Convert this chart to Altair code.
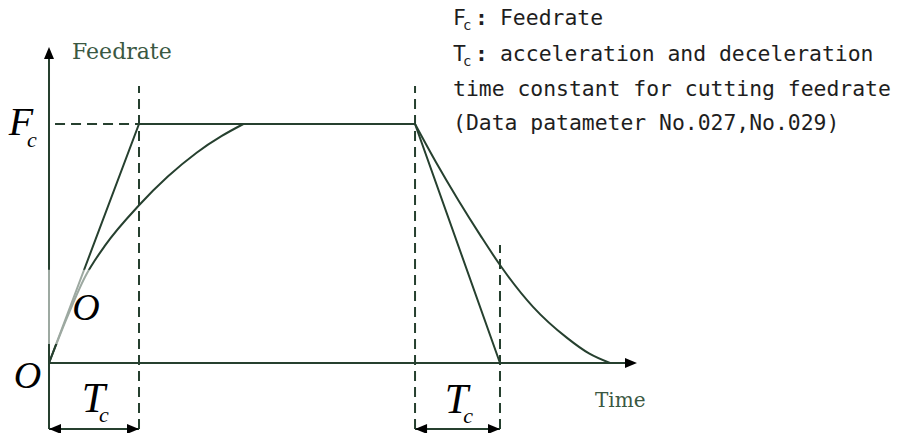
import altair as alt
import pandas as pd

# ---------------- data (time in Tc units, feedrate in Fc units) ----------------
lin_t = [0.0, 1.0, 4.067, 5.011]
lin_f = [0.0, 1.0, 1.0, 0.0]

acc_t = [0.0, 0.2, 0.4, 0.62, 1.0, 1.32, 1.64, 1.92, 2.16]
acc_f = [0.0, 0.19, 0.36, 0.49, 0.66, 0.78, 0.88, 0.95, 1.0]

dec_t = [4.067, 4.3, 4.55, 4.8, 5.011, 5.378, 5.756, 6.0, 6.233]
dec_f = [1.0, 0.84, 0.68, 0.53, 0.41, 0.235, 0.105, 0.04, 0.0]

t_acc_end = 1.0
t_dec_start = 4.067
t_dec_end = 5.011
f_dim = -0.276      # level of the Tc dimension arrows
t_axis_end = 6.533
f_axis_top = 1.322

LINE = "#26402f"
LABEL_GREEN = "#3a5842"

XS = alt.Scale(domain=[-0.4556, 9.4222], nice=False, zero=False)
YS = alt.Scale(domain=[-0.2929, 1.4854], nice=False, zero=False)
X = alt.X("t:Q", scale=XS, axis=None)
Y = alt.Y("f:Q", scale=YS, axis=None)


def segs(d):
    rows = []
    for name, pts in d.items():
        for i, (t, f) in enumerate(pts):
            rows.append({"seg": name, "o": i, "t": t, "f": f})
    return pd.DataFrame(rows)


solid = segs({
    "yaxis": [(0, f_dim), (0, f_axis_top - 0.03)],
    "xaxis": [(0, 0), (t_axis_end - 0.08, 0)],
    "tc1": [(0, f_dim), (t_acc_end, f_dim)],
    "tc2": [(t_dec_start, f_dim), (t_dec_end, f_dim)],
    "linear": list(zip(lin_t, lin_f)),
})
curves = segs({"acc": list(zip(acc_t, acc_f)), "dec": list(zip(dec_t, dec_f))})
dashed = segs({
    "fc": [(0.067, 1.0), (t_acc_end, 1.0)],
    "v1": [(t_acc_end, f_dim), (t_acc_end, 1.159)],
    "v2": [(t_dec_start, f_dim), (t_dec_start, 1.159)],
    "v3": [(t_dec_end, f_dim), (t_dec_end, 0.494)],
})

solid_layer = alt.Chart(solid).mark_line(color=LINE, strokeWidth=2).encode(
    x=X, y=Y, detail="seg:N", order="o:Q")
curve_layer = alt.Chart(curves).mark_line(color=LINE, strokeWidth=2, interpolate="monotone").encode(
    x=X, y=Y, detail="seg:N", order="o:Q")
dash_layer = alt.Chart(dashed).mark_line(color=LINE, strokeWidth=2, strokeDash=[10, 6]).encode(
    x=X, y=Y, detail="seg:N", order="o:Q")

# faded patch around the inner "O" label
fade = pd.DataFrame({"t": [-0.044], "t2": [0.57], "f": [0.08], "f2": [0.39]})
fade_layer = alt.Chart(fade).mark_rect(color="white", opacity=0.55).encode(
    x=X, x2="t2:Q", y=Y, y2="f2:Q")

# arrow heads
up = pd.DataFrame({"t": [0.0], "f": [f_axis_top]})
right = pd.DataFrame({"t": [t_axis_end, t_acc_end, t_dec_end], "f": [0.0, f_dim, f_dim]})
left = pd.DataFrame({"t": [0.0, t_dec_start], "f": [f_dim, f_dim]})
up_layer = alt.Chart(up).mark_point(shape="M0,0L-0.5,1.2L0.5,1.2Z", filled=True, size=400,
                                    color="black", opacity=1, strokeWidth=0).encode(x=X, y=Y)
right_layer = alt.Chart(right).mark_point(shape="M0,0L-1.2,-0.5L-1.2,0.5Z", filled=True, size=400,
                                          color="black", opacity=1, strokeWidth=0).encode(x=X, y=Y)
left_layer = alt.Chart(left).mark_point(shape="M0,0L1.2,-0.5L1.2,0.5Z", filled=True, size=400,
                                        color="black", opacity=1, strokeWidth=0).encode(x=X, y=Y)

# italic math labels
big_lab = pd.DataFrame({
    "t": [-0.311, -0.239, 0.411, 0.494, 4.528],
    "f": [0.954, -0.105, 0.18, -0.205, -0.209],
    "s": [40, 38, 38, 42, 42],
    "txt": ["F", "O", "O", "T", "T"],
})
sub_lab = pd.DataFrame({
    "t": [-0.189, 0.611, 4.656],
    "f": [0.904, -0.247, -0.251],
    "txt": ["c", "c", "c"],
})
big_layer = alt.Chart(big_lab).mark_text(font="Liberation Serif", fontStyle="italic", align="center",
                                         baseline="alphabetic", color="black").encode(
    x=X, y=Y, text="txt:N", size=alt.Size("s:Q", scale=None, legend=None))
sub_layer = alt.Chart(sub_lab).mark_text(font="Liberation Serif", fontStyle="italic", fontSize=22,
                                         align="center", baseline="alphabetic", color="black").encode(
    x=X, y=Y, text="txt:N")

# axis names
ax_names = pd.DataFrame({"t": [0.256, 6.067], "f": [1.272, -0.184], "txt": ["Feedrate", "Time"],
                         "s": [22, 20]})
ax_layer = alt.Chart(ax_names).mark_text(font="DejaVu Serif", align="left", baseline="alphabetic",
                                         color=LABEL_GREEN).encode(
    x=X, y=Y, text="txt:N", size=alt.Size("s:Q", scale=None, legend=None))

# note text (top right)
note_main = pd.DataFrame({
    "t": [4.489, 5.011, 4.489, 5.011, 4.489, 4.489],
    "f": [1.414, 1.414, 1.264, 1.264, 1.117, 0.975],
    "txt": ["F", "Feedrate", "T", "acceleration and deceleration",
            "time constant for cutting feedrate", " (Data patameter No.027,No.029)"],
})
note_colon = pd.DataFrame({"t": [4.733, 4.733], "f": [1.414, 1.264], "txt": [":", ":"]})
note_sub = pd.DataFrame({"t": [4.6, 4.6], "f": [1.393, 1.243], "txt": ["c", "c"]})
NOTE = "#1e1e1e"
note_layer = alt.Chart(note_main).mark_text(font="DejaVu Sans Mono", fontSize=21.4, align="left",
                                            baseline="alphabetic", color=NOTE).encode(
    x=X, y=Y, text="txt:N")
colon_layer = alt.Chart(note_colon).mark_text(font="DejaVu Sans Mono", fontSize=21.4, fontWeight="bold",
                                              align="left", baseline="alphabetic", color=NOTE).encode(
    x=X, y=Y, text="txt:N")
nsub_layer = alt.Chart(note_sub).mark_text(font="DejaVu Sans Mono", fontSize=14, align="left",
                                           baseline="alphabetic", color=NOTE).encode(
    x=X, y=Y, text="txt:N")

chart = alt.layer(
    dash_layer, solid_layer, curve_layer, fade_layer,
    up_layer, right_layer, left_layer,
    big_layer, sub_layer, ax_layer, note_layer, colon_layer, nsub_layer,
).properties(
    width=889, height=425, padding=0, autosize=alt.AutoSizeParams(type="none"), background="white"
).configure_view(stroke=None)

chart.save("out.html", embed_options={"renderer": "svg", "actions": False})
